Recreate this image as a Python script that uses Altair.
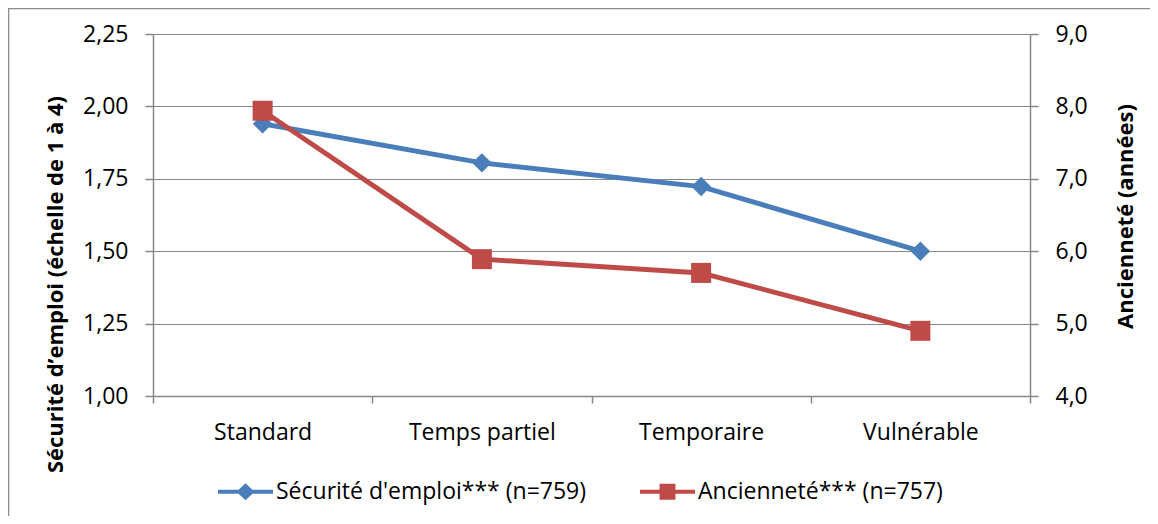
import altair as alt
import pandas as pd

# ---- data ----
categories = ["Standard", "Temps partiel", "Temporaire", "Vulnérable"]
securite = [1.94, 1.805, 1.723, 1.50]
anciennete = [7.94, 5.89, 5.70, 4.90]
series_names = ["Sécurité d'emploi*** (n=759)", "Ancienneté*** (n=757)"]
left_ticks = [1.00, 1.25, 1.50, 1.75, 2.00, 2.25]
right_ticks = [4.0, 5.0, 6.0, 7.0, 8.0, 9.0]

BLUE = "#4A7EBB"
RED = "#BE4B48"
GRID = "#868686"
FONT = "Open Sans"
W, H = 877, 362

df = pd.DataFrame({"cat": categories, "sec": securite, "anc": anciennete})
leg_df = pd.DataFrame({"series": series_names})
frame_df = pd.DataFrame({"k": [0]})

PATH_DIAMOND = "M-1,-0.075H1V0.075H-1Z M0,-0.31L0.33,0L0,0.31L-0.33,0Z"
PATH_SQUARE = "M-1,-0.075H1V0.075H-1Z M-0.29,-0.29H0.29V0.29H-0.29Z"

x_enc = alt.X(
    "cat:N",
    sort=categories,
    bandPosition=0.5,
    scale=alt.Scale(type="band", paddingInner=0, paddingOuter=0),
    axis=alt.Axis(
        title=None, tickBand="extent", labelAngle=0, grid=False,
        domainColor=GRID, tickColor=GRID, tickSize=7, labelPadding=18,
    ),
)

y_left = alt.Y(
    "sec:Q",
    scale=alt.Scale(domain=[1, 2.25], nice=False, zero=False),
    axis=alt.Axis(
        values=left_ticks,
        labelExpr="replace(format(datum.value, '.2f'), '.', ',')",
        grid=True, gridColor=GRID, gridWidth=1,
        domainColor=GRID, tickColor=GRID, tickSize=8, labelPadding=17,
        title="Sécurité d’emploi (échelle de 1 à 4)",
        titleAngle=270, titleX=-91, titleY=250,
        titleAlign="center", titleBaseline="alphabetic",
    ),
)

y_right = alt.Y(
    "anc:Q",
    scale=alt.Scale(domain=[4, 9], nice=False, zero=False),
    axis=alt.Axis(
        orient="right",
        values=right_ticks,
        labelExpr="replace(format(datum.value, '.1f'), '.', ',')",
        grid=False,
        domainColor=GRID, tickColor=GRID, tickSize=8, labelPadding=17,
        title="Ancienneté (années)",
        titleAngle=270, titleX=102, titleY=182,
        titleAlign="center", titleBaseline="alphabetic",
    ),
)

frame = alt.Chart(frame_df).mark_rect(
    fillOpacity=0, stroke="#8c8c8c", strokeWidth=1.5
).encode(
    x=alt.value(-144.5), x2=alt.value(W + 300),
    y=alt.value(-25.5), y2=alt.value(H + 300),
)

base = alt.Chart(df)
left = alt.layer(
    base.mark_line(color=BLUE, strokeWidth=5).encode(x=x_enc, y=y_left),
    base.mark_point(shape="diamond", filled=True, size=380, opacity=1, color=BLUE).encode(x=x_enc, y=y_left),
)
right = alt.layer(
    base.mark_line(color=RED, strokeWidth=5).encode(x=x_enc, y=y_right),
    base.mark_point(shape="square", filled=True, size=400, opacity=1, color=RED).encode(x=x_enc, y=y_right),
)

legend_layer = alt.Chart(leg_df).mark_point(filled=True, opacity=1).encode(
    color=alt.Color("series:N", title=None,
                    scale=alt.Scale(domain=series_names, range=[BLUE, RED])),
    shape=alt.Shape("series:N", title=None,
                    scale=alt.Scale(domain=series_names, range=[PATH_DIAMOND, PATH_SQUARE])),
).transform_filter("false")

chart = (
    alt.layer(frame, left, right, legend_layer)
    .resolve_scale(y="independent")
    .properties(
        width=W, height=H,
        padding={"left": 145, "top": 26, "right": 120, "bottom": 120},
        autosize=alt.AutoSizeParams(type="none"),
    )
    .configure_view(strokeWidth=0)
    .configure_axis(
        labelFont=FONT, labelFontSize=23, labelColor="#000000",
        titleFont=FONT, titleFontSize=22, titleFontWeight="bold", titleColor="#000000",
        domainWidth=1.5, tickWidth=1.5,
    )
    .configure_legend(
        orient="none", legendX=65, legendY=430, direction="horizontal",
        columnPadding=53, labelOffset=3, labelFont=FONT, labelFontSize=23,
        labelColor="#000000", symbolSize=3025, symbolStrokeWidth=0,
        padding=0, labelLimit=600,
    )
)

chart.save("out.html", embed_options={"renderer": "svg", "actions": False})
